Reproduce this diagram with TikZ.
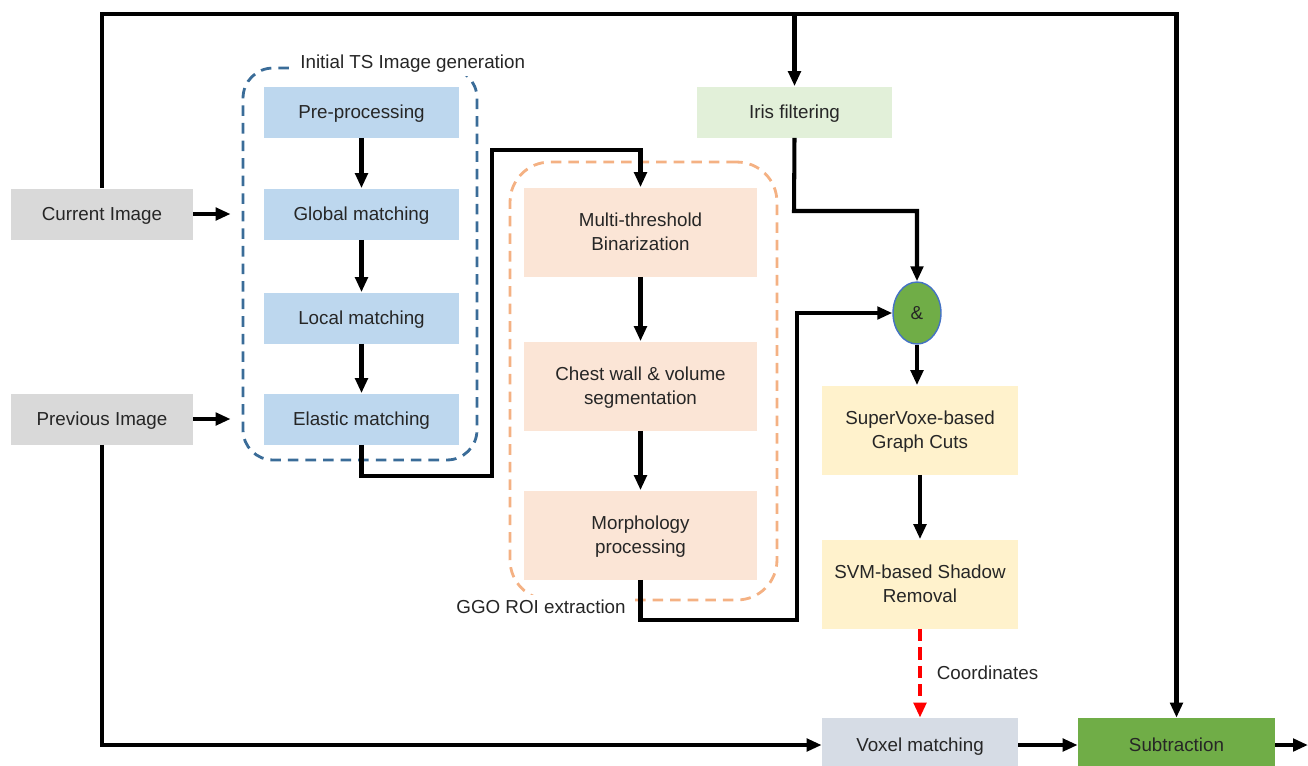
\documentclass[tikz,border=0pt]{standalone}
\usepackage{fontspec}
\setmainfont{Liberation Sans}
\definecolor{TxtGray}{RGB}{38,38,38}
\definecolor{ImgGray}{RGB}{217,217,217}
\definecolor{TSBlue}{RGB}{189,215,238}
\definecolor{TSDash}{RGB}{58,108,152}
\definecolor{GGOPeach}{RGB}{251,229,214}
\definecolor{GGODash}{RGB}{244,177,131}
\definecolor{IrisGreen}{RGB}{226,240,217}
\definecolor{CutYellow}{RGB}{255,242,204}
\definecolor{VoxGray}{RGB}{214,220,229}
\definecolor{SubGreen}{RGB}{112,173,71}
\definecolor{AndBlue}{RGB}{68,114,196}
\usepackage{tikz}
\usetikzlibrary{arrows.meta, positioning, shapes.geometric}

\begin{document}
\begin{tikzpicture}[x=0.02cm, y=-0.02cm,
        every node/.style={font=\fontsize{10.7}{13.6}\selectfont, text=TxtGray},
        box/.style={inner sep=0pt, align=center, minimum width=3.9cm, minimum height=1.02cm, text depth=-2.3pt},
        tallbox/.style={box, minimum height=1.78cm, text depth=-1pt},
        arr/.style={line width=2.3pt, -{Triangle[length=8.5pt, width=7pt]}},
        group/.style={rounded corners=#1, line width=1.6pt, dash pattern=on 6pt off 4pt}]
        \useasboundingbox (0,0) rectangle (1308,765);

        \node[group=0.6cm, draw=TSDash, minimum width=4.68cm, minimum height=7.84cm] (ts) at (360,264) {};
        \node[group=0.8cm, draw=GGODash, minimum width=5.34cm, minimum height=8.76cm] (ggo) at (643.5,381) {};
        \node[fill=white, anchor=west, inner xsep=4pt, inner ysep=2pt] (tslabel) at (293,64) {Initial TS Image generation};
        \node[fill=white, inner xsep=3pt, inner ysep=3pt] (ggolabel) at (541,607) {GGO ROI extraction};

        \node[box, minimum width=3.64cm, fill=ImgGray] (cur) at (102,214) {Current Image};
        \node[box, minimum width=3.64cm, fill=ImgGray] (prev) at (102,419) {Previous Image};

        \node[box, fill=TSBlue] (pre) at (361.5,112) {Pre-processing};
        \node[box, fill=TSBlue] (glob) at (361.5,214) {Global matching};
        \node[box, fill=TSBlue] (loc) at (361.5,318) {Local matching};
        \node[box, fill=TSBlue] (ela) at (361.5,419) {Elastic matching};

        \node[tallbox, minimum width=4.66cm, fill=GGOPeach] (multi) at (640.5,232) {Multi-threshold\\Binarization};
        \node[tallbox, minimum width=4.66cm, fill=GGOPeach] (chest) at (640.5,386) {Chest wall \& volume\\segmentation};
        \node[tallbox, minimum width=4.66cm, fill=GGOPeach] (morph) at (640.5,535) {Morphology\\processing};

        \node[box, fill=IrisGreen] (iris) at (794.5,112) {Iris filtering};
        \node[ellipse, draw=AndBlue, line width=0.8pt, fill=SubGreen, inner sep=0pt,
              minimum width=0.96cm, minimum height=1.24cm] (and) at (917,313) {\&};
        \node[tallbox, minimum width=3.92cm, fill=CutYellow] (cuts) at (920,430) {SuperVoxe-based\\Graph Cuts};
        \node[tallbox, minimum width=3.92cm, fill=CutYellow] (svm) at (920,584) {SVM-based Shadow\\Removal};
        \node[box, minimum width=3.92cm, minimum height=1.08cm, fill=VoxGray] (vox) at (920,745) {Voxel matching};
        \node[box, minimum width=3.94cm, minimum height=1.08cm, fill=SubGreen] (sub) at (1176.5,745) {Subtraction};

        \coordinate (top) at (0,14);
        \coordinate (out) at (1308,745);

        \draw[arr] (cur.north) |- (sub.north |- top) -- (sub.north);
        \draw[arr] (iris.north |- top) -- (iris.north);
        \draw[arr, shorten >=0.22cm] (cur.east) -- (cur.east -| ts.west);
        \draw[arr, shorten >=0.22cm] (prev.east) -- (prev.east -| ts.west);
        \draw[arr] (pre) -- (glob);
        \draw[arr] (glob) -- (loc);
        \draw[arr] (loc) -- (ela);
        \draw[arr] (ela.south) |- (492,476) -- (492,150) -| (multi.north);
        \draw[arr] (multi) -- (chest);
        \draw[arr] (chest) -- (morph);
        \draw[arr] (morph.south) |- (797,620) |- (and.west);
        \draw[arr] (iris.south) -- (794,211) -| (and.north);
        \draw[arr] (and.south) -- (and.south |- cuts.north);
        \draw[arr] (cuts) -- (svm);
        \draw[arr, red, dash pattern=on 7pt off 3.5pt] (svm) -- (vox)
            node[midway, anchor=west, xshift=0.18cm, text=TxtGray] {Coordinates};
        \draw[arr] (prev.south) |- (vox.west);
        \draw[arr] (vox) -- (sub);
        \draw[arr] (sub.east) -- (out);
    \end{tikzpicture}
\end{document}
